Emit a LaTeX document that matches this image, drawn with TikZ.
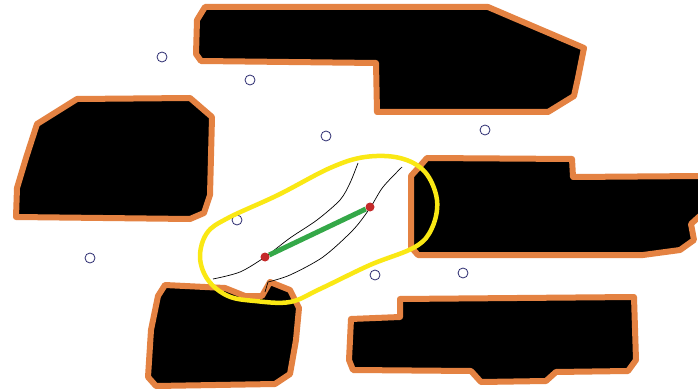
\documentclass[tikz,border=0pt]{standalone}
\definecolor{cedge}{RGB}{228,130,66}
\definecolor{cyel}{RGB}{250,232,20}
\definecolor{cgreen}{RGB}{52,168,72}
\definecolor{cdot}{RGB}{196,42,42}
\definecolor{cpt}{RGB}{44,44,112}
\tikzset{map/.style={x=1pt,y=-1pt},
  obst/.style={fill=black,draw=cedge,line width=6pt,line join=round},
  sample/.style={draw=cpt,line width=0.8pt},
  endpt/.style={circle,fill=cdot,inner sep=0pt,minimum size=9pt}}

\begin{document}
\begin{tikzpicture}[map]
    \useasboundingbox[fill=white] (0,0) rectangle (698,390);
    \draw[obst] (205,7) -- (488,7) -- (584,48) -- (578,78) -- (574,96) -- (548,112) -- (377,112) -- (376,63) -- (201,61) -- (196,54) -- (197,20) -- cycle;
    \draw[obst] (77,99) -- (190,98) -- (212,117) -- (210,195) -- (204,213) -- (190,219) -- (16,217) -- (17,188) -- (26,158) -- (37,124) -- cycle;
    \draw[obst] (427,158) -- (572,159) -- (573,177) -- (702,176) -- (702,214) -- (691,224) -- (694,240) -- (680,250) -- (643,255) -- (418,255) -- (411,247) -- (411,176) -- (420,166) -- cycle;
    \draw[obst] (165,285) -- (225,288) -- (245,296) -- (262,296) -- (270,282) -- (290,290) -- (299,308) -- (296,340) -- (290,374) -- (275,384) -- (156,386) -- (148,377) -- (151,330) -- (158,296) -- cycle;
    \draw[obst] (400,299) -- (634,297) -- (636,360) -- (628,371) -- (556,372) -- (546,381) -- (481,382) -- (471,371) -- (353,370) -- (349,360) -- (351,319) -- (400,317) -- cycle;
    \foreach \x/\y in {162/57,250/80,326/136,485/130,237/220,90/258,375/275,463/273}
      \draw[sample] (\x,\y) circle (5pt);
    \draw[cyel,line width=4.5pt] plot[smooth cycle,tension=0.6] coordinates {(200,257) (207,233) (228,218) (278,195) (330,168) (365,157) (400,158) (425,172) (437,200) (432,228) (415,247) (370,265) (320,289) (290,302) (255,301) (228,296) (208,280)};
    \draw[black,line width=0.7pt] plot[smooth] coordinates {(213,279) (240,272) (265,257) (290,238) (317,220) (340,200) (350,183) (358,163)};
    \draw[black,line width=0.7pt] (265,292) -- plot[smooth] coordinates {(268,282) (290,275) (323,257) (353,230) (370,208) (383,187) (402,167)};
    \node[endpt] (qa) at (265,257) {};
    \node[endpt] (qb) at (370,207) {};
    \draw[cgreen,line width=5pt] (qa) -- (qb);
  \end{tikzpicture}
\end{document}
